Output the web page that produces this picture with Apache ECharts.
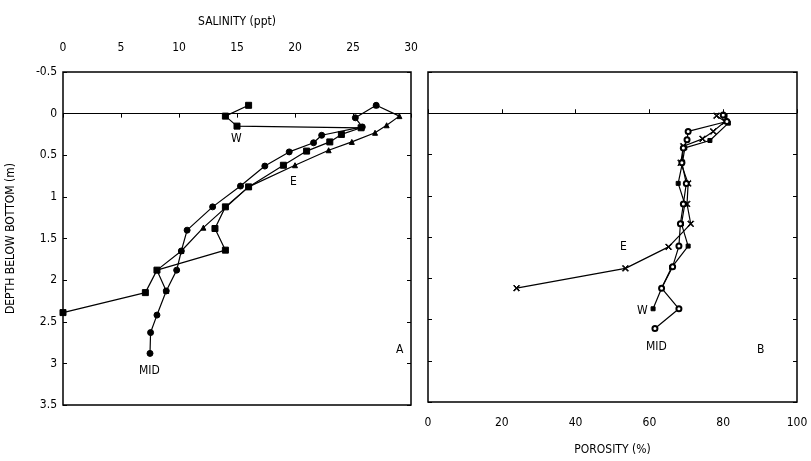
<!DOCTYPE html>
<html><head><meta charset="utf-8">
<script src="https://cdn.jsdelivr.net/npm/echarts@6/dist/echarts.min.js"></script>
<style>html,body{margin:0;padding:0;background:#fff}#c{width:811px;height:461px}</style>
</head><body><div id="c"></div>
<script>
// Panel A: salinity (ppt) vs depth below bottom (m)
const salW   = [[16,-0.10],[14,0.03],[15,0.15],[25.7,0.17],[24.0,0.25],[23.0,0.34],[21.0,0.45],[19.0,0.62],[16.0,0.88],[14.0,1.12],[13.1,1.38],[14.0,1.64],[8.1,1.88],[7.1,2.15],[0,2.39]];
const salMID = [[27,-0.10],[25.2,0.05],[25.8,0.16],[22.3,0.26],[21.6,0.35],[19.5,0.46],[17.4,0.63],[15.3,0.87],[12.9,1.12],[10.7,1.40],[10.2,1.65],[9.8,1.88],[8.9,2.13],[8.1,2.42],[7.55,2.63],[7.5,2.88]];
const salE   = [[27,-0.10],[29,0.03],[27.9,0.14],[26.9,0.23],[24.9,0.34],[22.9,0.44],[20.0,0.62],[16.0,0.88],[12.1,1.37],[10.2,1.65],[8.1,1.88],[8.9,2.13]];
// Panel B: porosity (%) vs depth
const porE   = [[78.2,0.03],[80.5,0.10],[77.3,0.22],[74.4,0.31],[69.2,0.40],[68.5,0.60],[70.5,0.85],[70.2,1.10],[71.2,1.34],[65.2,1.62],[53.5,1.88],[24,2.12]];
const porW   = [[80.5,0.03],[81.4,0.12],[76.4,0.33],[69.6,0.42],[69,0.59],[67.8,0.85],[69.6,1.10],[68.7,1.34],[70.5,1.61],[66,1.87],[63.3,2.12],[61,2.37]];
const porMID = [[80,0.02],[81,0.10],[70.5,0.22],[70.2,0.32],[69.2,0.42],[68.8,0.60],[70,0.85],[69.2,1.10],[68.4,1.34],[68,1.61],[66.3,1.86],[63.3,2.12],[68,2.37],[61.5,2.61]];

const FONT = "'Liberation Sans Narrow','DejaVu Sans Condensed',sans-serif";
const lab = {color:'#000', fontFamily:FONT, fontSize:12};
const xMark = 'path://M0,1L1,0L5,4L9,0L10,1L6,5L10,9L9,10L5,6L1,10L0,9L4,5Z';

const chart = echarts.init(document.getElementById('c'), null, {renderer:'canvas'});
function ser(data, xi, sym, size, extra) {
  return Object.assign({type:'line', data, xAxisIndex:xi, yAxisIndex:xi*2, symbol:sym, symbolSize:size,
    showSymbol:true, lineStyle:{color:'#000', width:1.2}, itemStyle:{color:'#000', borderColor:'#000', borderWidth:1},
    animation:false, z:3}, extra||{});
}
const zeroLine = {silent:true, symbol:['none','none'], label:{show:false}, lineStyle:{color:'#000', width:1.2, type:'solid'}, data:[{yAxis:0}]};

chart.setOption({
  backgroundColor:'#fff',
  animation:false,
  grid:[
    {left:63, right:400, top:72, bottom:56, show:true, borderColor:'#000', borderWidth:1.5, backgroundColor:'transparent'},
    {left:428, right:14, top:72, bottom:56, show:true, borderColor:'#000', borderWidth:1.5, backgroundColor:'transparent'}
  ],
  xAxis:[
    {gridIndex:0, type:'value', position:'top', min:0, max:30, interval:5,
     name:'SALINITY (ppt)', nameLocation:'middle', nameGap:44, nameTextStyle:lab,
     axisLine:{show:false}, axisTick:{inside:true, length:4, lineStyle:{color:'#000'}}, splitLine:{show:false},
     axisLabel:Object.assign({margin:18}, lab)},
    {gridIndex:1, type:'value', position:'bottom', min:0, max:100, interval:20,
     name:'POROSITY (%)', nameLocation:'middle', nameGap:42, nameTextStyle:lab,
     axisLine:{show:false}, axisTick:{inside:true, length:4, lineStyle:{color:'#000'}}, splitLine:{show:false},
     axisLabel:Object.assign({margin:15}, lab)}
  ],
  yAxis:[
    {gridIndex:0, type:'value', inverse:true, min:-0.5, max:3.5, interval:0.5,
     name:'DEPTH BELOW BOTTOM (m)', nameLocation:'middle', nameGap:46, nameRotate:90, nameTextStyle:lab,
     axisLine:{show:false}, axisTick:{inside:true, length:4, lineStyle:{color:'#000'}}, splitLine:{show:false},
     axisLabel:Object.assign({margin:6}, lab)},
    {gridIndex:0, type:'value', inverse:true, min:-0.5, max:3.5, interval:0.5, position:'right',
     axisLine:{show:false}, axisTick:{inside:true, length:4, lineStyle:{color:'#000'}}, axisLabel:{show:false}, splitLine:{show:false}},
    {gridIndex:1, type:'value', inverse:true, min:-0.5, max:3.5, interval:0.5,
     axisLine:{show:false}, axisTick:{inside:true, length:4, lineStyle:{color:'#000'}}, axisLabel:{show:false}, splitLine:{show:false}},
    {gridIndex:1, type:'value', inverse:true, min:-0.5, max:3.5, interval:0.5, position:'right',
     axisLine:{show:false}, axisTick:{inside:true, length:4, lineStyle:{color:'#000'}}, axisLabel:{show:false}, splitLine:{show:false}}
  ],
  series:[
    ser(salW, 0, 'rect', 6, {markLine:zeroLine}),
    ser(salMID, 0, 'circle', 6),
    ser(salE, 0, 'triangle', 5),
    ser(porE, 1, xMark, 6, {markLine:zeroLine}),
    ser(porW, 1, 'rect', 4),
    ser(porMID, 1, 'emptyCircle', 5, {itemStyle:{color:'#000', borderColor:'#000', borderWidth:0.8}})
  ],
  graphic:[
    {type:'text', left:231, top:133, style:{text:'W', fill:'#000', font:'12px '+FONT}},
    {type:'text', left:290, top:176, style:{text:'E', fill:'#000', font:'12px '+FONT}},
    {type:'text', left:139, top:365, style:{text:'MID', fill:'#000', font:'12px '+FONT}},
    {type:'text', left:396, top:344, style:{text:'A', fill:'#000', font:'12px '+FONT}},
    {type:'text', left:620, top:241, style:{text:'E', fill:'#000', font:'12px '+FONT}},
    {type:'text', left:637, top:305, style:{text:'W', fill:'#000', font:'12px '+FONT}},
    {type:'text', left:646, top:341, style:{text:'MID', fill:'#000', font:'12px '+FONT}},
    {type:'text', left:757, top:344, style:{text:'B', fill:'#000', font:'12px '+FONT}}
  ]
});
</script></body></html>
